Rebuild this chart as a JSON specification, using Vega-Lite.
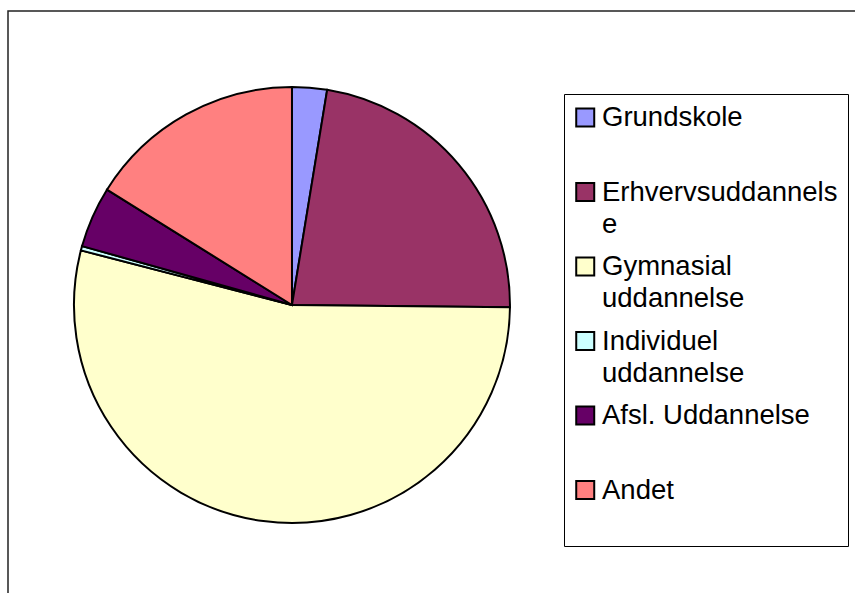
{
  "$schema": "https://vega.github.io/schema/vega-lite/v6.json",
  "width": 860,
  "height": 588,
  "padding": {"left": 8, "top": 11, "right": 0, "bottom": 0},
  "background": "white",
  "view": {"stroke": "#222", "strokeWidth": 1.5},
  "data": {
    "values": [
      {"i": 1, "cat": "Grundskole", "n": 8},
      {"i": 2, "cat": "Erhvervsuddannelse", "n": 70},
      {"i": 3, "cat": "Gymnasial uddannelse", "n": 167},
      {"i": 4, "cat": "Individuel uddannelse", "n": 1},
      {"i": 5, "cat": "Afsl. Uddannelse", "n": 14},
      {"i": 6, "cat": "Andet", "n": 50}
    ]
  },
  "mark": {"type": "arc", "radius": 218, "stroke": "black", "strokeWidth": 2},
  "encoding": {
    "theta": {"field": "n", "type": "quantitative", "stack": true},
    "order": {"field": "i", "type": "quantitative"},
    "x": {"datum": 0.3302, "type": "quantitative", "scale": {"domain": [0, 1]}, "axis": null},
    "color": {
      "field": "cat",
      "type": "nominal",
      "sort": null,
      "scale": {
        "domain": ["Grundskole", "Erhvervsuddannelse", "Gymnasial uddannelse", "Individuel uddannelse", "Afsl. Uddannelse", "Andet"],
        "range": ["#9999FF", "#993366", "#FFFFCC", "#CCFFFF", "#660066", "#FF8080"]
      },
      "legend": {
        "title": null,
        "orient": "none",
        "legendX": 556,
        "legendY": 83,
        "padding": 10,
        "strokeColor": "black",
        "rowPadding": 14.5,
        "labelFont": "Liberation Sans",
        "labelFontSize": 27.5,
        "labelColor": "black",
        "labelLimit": 500,
        "labelOffset": 0.5,
        "labelBaseline": "alphabetic",
        "labelExpr": "datum.label == 'Erhvervsuddannelse' ? ['Erhvervsuddannels', 'e'] : indexof(datum.label, ' uddannelse') > 0 ? split(datum.label, ' ') : [datum.label, ' ']",
        "symbolType": "M-1.28,-1.03H0.72V0.97H-1.28Z",
        "symbolSize": 324,
        "symbolStrokeColor": "black",
        "symbolStrokeWidth": 2,
        "symbolOpacity": 1
      }
    }
  },
  "config": {
    "legend": {"strokeWidth": 1},
    "style": {"guide-label": {"lineHeight": 32, "dy": 8.25}}
  }
}
